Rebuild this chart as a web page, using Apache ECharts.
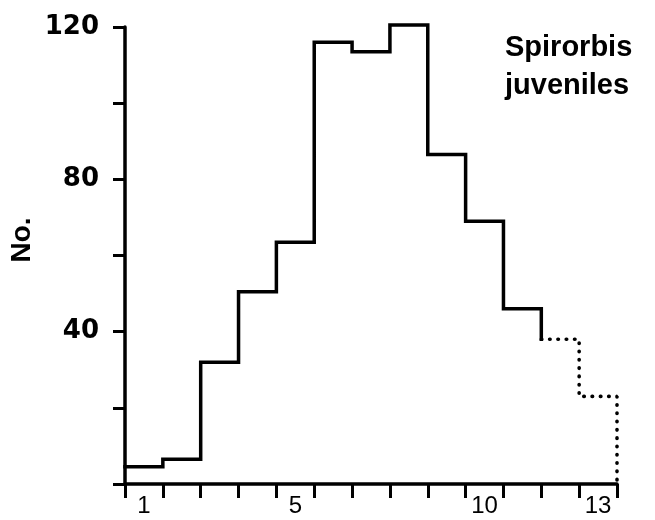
<!DOCTYPE html>
<html>
<head>
<meta charset="utf-8">
<script src="https://cdn.jsdelivr.net/npm/echarts@6/dist/echarts.min.js"></script>
<style>
html,body{margin:0;padding:0;background:#fff;}
#chart{width:655px;height:520px;}
</style>
</head>
<body>
<div id="chart"></div>
<script>
// Size classes (bins) 1..13
const categories = ['1','2','3','4','5','6','7','8','9','10','11','12','13'];
// Shown x tick labels (blank = unlabelled)
const xTickLabels = ['1','','','','5','','','','','10','','','13'];
// Counts per bin (No.), solid part = bins 1-11, dotted part = bins 12-13
const solidCounts = [4.5, 6.5, 32, 50.5, 63.5, 116, 113.5, 120.5, 86.5, 69, 46];
const dottedCounts = [38, 23];
// Labelled y ticks
const yLabelValues = [40, 80, 120];
const yAxisName = 'No.';
const titleLines = ['Spirorbis', 'juveniles'];

const allCounts = solidCounts.concat(dottedCounts);
// Build step points at bin left edges (value axis 0..13)
const solidData = [];
for (let i = 0; i < solidCounts.length; i++) solidData.push([i, solidCounts[i]]);
solidData.push([solidCounts.length, dottedCounts[0]]);
const dottedData = [];
for (let j = 0; j < dottedCounts.length; j++) dottedData.push([solidCounts.length + j, dottedCounts[j]]);
dottedData.push([allCounts.length, dottedCounts[dottedCounts.length - 1]]);
dottedData.push([allCounts.length, 0]);

const chart = echarts.init(document.getElementById('chart'), null, {renderer: 'canvas'});
chart.setOption({
  animation: false,
  backgroundColor: '#ffffff',
  grid: {left: 125, right: 38, top: 27, bottom: 36, containLabel: false},
  xAxis: [
    {
      type: 'category',
      data: categories,
      boundaryGap: true,
      axisLine: {show: true, lineStyle: {color: '#000', width: 3.5}},
      axisTick: {show: true, interval: 0, length: 14, lineStyle: {color: '#000', width: 3}},
      axisLabel: {
        interval: 0, margin: 10, color: '#000',
        fontFamily: 'Liberation Sans', fontSize: 24,
        formatter: (v, i) => xTickLabels[i]
      },
      splitLine: {show: false}
    },
    {
      type: 'value', min: 0, max: categories.length, show: false
    }
  ],
  yAxis: {
    type: 'value', min: 0, max: 120, interval: 20,
    axisLine: {show: true, lineStyle: {color: '#000', width: 3.5}},
    axisTick: {show: true, length: 12, lineStyle: {color: '#000', width: 3}},
    axisLabel: {
      margin: 26, color: '#000',
      fontFamily: 'DejaVu Sans', fontWeight: 'bold', fontSize: 26,
      formatter: v => yLabelValues.includes(v) ? String(v) : ''
    },
    splitLine: {show: false}
  },
  series: [
    {
      type: 'line', xAxisIndex: 1, step: 'end', symbol: 'none', clip: false,
      data: solidData,
      lineStyle: {color: '#000', width: 3.5, cap: 'square', join: 'miter'}
    },
    {
      type: 'line', xAxisIndex: 1, step: 'end', symbol: 'none', clip: false,
      data: dottedData,
      lineStyle: {color: '#000', width: 3.6, type: [0.5, 7.8], cap: 'round'}
    }
  ],
  graphic: [
    {
      type: 'text', x: 22, y: 240, rotation: Math.PI / 2,
      style: {
        text: yAxisName, fill: '#000', align: 'center', verticalAlign: 'middle',
        font: 'bold 28px "Liberation Sans"'
      }
    },
    {
      type: 'text', x: 505, y: 29,
      style: {
        text: titleLines.join('\n'), fill: '#000', align: 'left', verticalAlign: 'top',
        font: 'bold 29px "Liberation Sans"', lineHeight: 38
      }
    }
  ]
});
</script>
</body>
</html>
